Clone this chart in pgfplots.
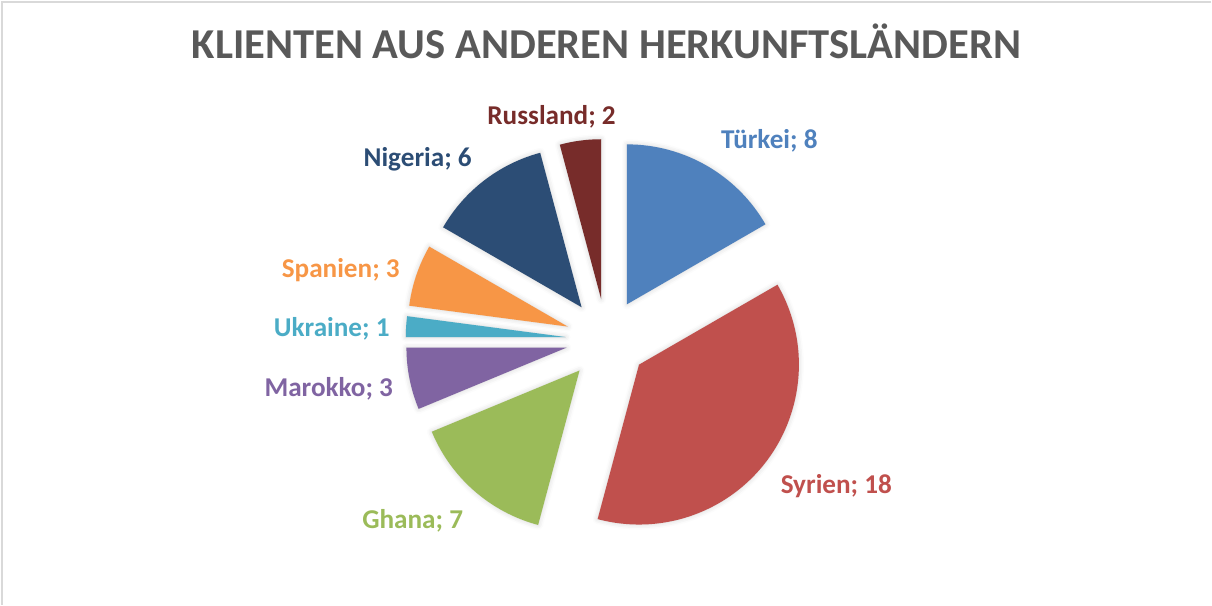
\documentclass[border=0pt]{standalone}
\usepackage{pgfplots}
\pgfplotsset{compat=1.18}
\usepackage{pgfplotstable}
\usepackage{fontspec}
\setmainfont{Carlito}
\usetikzlibrary{shadows.blur}

\definecolor{cTurk}{HTML}{4F81BD}
\definecolor{cSyr}{HTML}{C0504D}
\definecolor{cGha}{HTML}{9BBB59}
\definecolor{cMar}{HTML}{8064A2}
\definecolor{cUkr}{HTML}{4BACC6}
\definecolor{cSpa}{HTML}{F79646}
\definecolor{cNig}{HTML}{2C4D75}
\definecolor{cRus}{HTML}{772C2A}
\definecolor{ctitle}{HTML}{595959}
\definecolor{cframe}{HTML}{D9D9D9}

% Klienten je Herkunftsland, im Uhrzeigersinn ab 12 Uhr
% lx/ly: Lage der Beschriftung (Bildpunkte, Grundlinie)
\pgfplotstableread[col sep=semicolon]{
land;anzahl;farbe;lx;ly
Türkei;8;cTurk;770;149
Syrien;18;cSyr;837;494
Ghana;7;cGha;413;529
Marokko;3;cMar;329;397
Ukraine;1;cUkr;332;337
Spanien;3;cSpa;341;278
Nigeria;6;cNig;418;167
Russland;2;cRus;552;125
}\herkunft

\pgfplotstablegetrowsof{\herkunft}
\pgfmathtruncatemacro\lastrow{\pgfplotsretval-1}
\def\gesamt{0}
\pgfplotsforeachungrouped \i in {0,...,\lastrow}{%
  \pgfplotstablegetelem{\i}{anzahl}\of\herkunft
  \pgfmathsetmacro\gesamt{\gesamt+\pgfplotsretval}%
}
\pgfmathsetmacro\grad{360/\gesamt}

\newcommand\labelfont{\fontsize{13.6}{16}\selectfont\bfseries}

\begin{document}
\begin{tikzpicture}
\begin{axis}[
  x=0.5pt, y=0.5pt,
  xmin=0, xmax=1212, ymin=0, ymax=605,
  y dir=reverse,
  hide axis, clip=false,
]
\path (axis cs:0,0) rectangle (axis cs:1212,605);
\draw[cframe, line width=1pt] (axis cs:1212,2) -- (axis cs:2,2) -- (axis cs:2,605);
\node[ctitle, font=\fontsize{21.3}{25}\selectfont\bfseries, anchor=base]
  at (axis cs:607,59) {KLIENTEN AUS ANDEREN HERKUNFTSLÄNDERN};

\def\kum{0}
\pgfplotsforeachungrouped \i in {0,...,\lastrow}{%
  \pgfplotstablegetelem{\i}{anzahl}\of\herkunft \let\wert\pgfplotsretval
  \pgfplotstablegetelem{\i}{land}\of\herkunft \let\lname\pgfplotsretval
  \pgfplotstablegetelem{\i}{farbe}\of\herkunft \let\farbe\pgfplotsretval
  \pgfplotstablegetelem{\i}{lx}\of\herkunft \let\lx\pgfplotsretval
  \pgfplotstablegetelem{\i}{ly}\of\herkunft \let\ly\pgfplotsretval
  \pgfmathsetmacro\sa{90-\grad*\kum}%
  \pgfmathsetmacro\kum{\kum+\wert}%
  \pgfmathsetmacro\ea{90-\grad*\kum}%
  \pgfmathsetmacro\ma{(\sa+\ea)/2}%
  \edef\stueck{%
    \noexpand\fill[\farbe, blur shadow={shadow xshift=0pt, shadow yshift=0pt,
        shadow blur radius=2.5pt, shadow opacity=18}]
      (axis cs:607,340) ++(\ma:20.5pt) -- ++(\sa:80pt)
      arc[start angle=\sa, end angle=\ea, radius=80pt] -- cycle;
    \noexpand\node[\farbe, font=\noexpand\labelfont, anchor=base]
      at (axis cs:\lx,\ly) {\lname; \wert};
  }%
  \stueck
}
\end{axis}
\end{tikzpicture}
\end{document}
